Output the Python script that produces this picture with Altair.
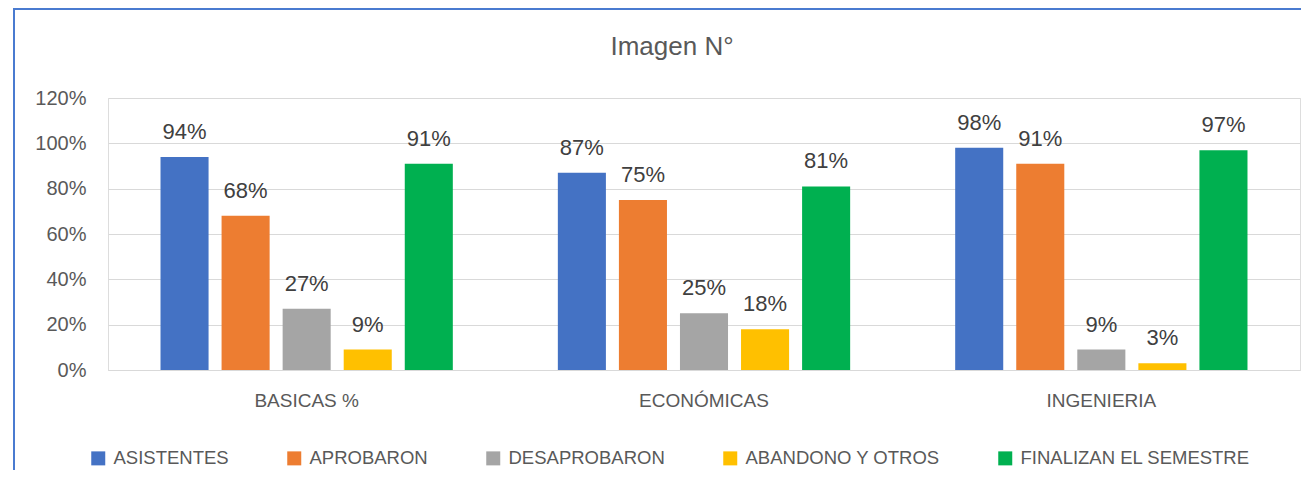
import altair as alt
import pandas as pd

categories = ["BASICAS %", "ECONÓMICAS", "INGENIERIA"]
series = ["ASISTENTES", "APROBARON", "DESAPROBARON", "ABANDONO Y OTROS", "FINALIZAN EL SEMESTRE"]
colors = ["#4472C4", "#ED7D31", "#A5A5A5", "#FFC000", "#00B050"]
values = {
    "ASISTENTES": [0.94, 0.87, 0.98],
    "APROBARON": [0.68, 0.75, 0.91],
    "DESAPROBARON": [0.27, 0.25, 0.09],
    "ABANDONO Y OTROS": [0.09, 0.18, 0.03],
    "FINALIZAN EL SEMESTRE": [0.91, 0.81, 0.97],
}
y_ticks = [0, 0.2, 0.4, 0.6, 0.8, 1.0, 1.2]

rows = []
for s in series:
    for c, v in zip(categories, values[s]):
        rows.append({"cat": c, "serie": s, "val": v})
df = pd.DataFrame(rows)

FONT = "Liberation Sans"
W, H = 1192, 272

x_enc = alt.X("cat:N", sort=categories, title=None,
              scale=alt.Scale(paddingInner=0, paddingOuter=0),
              axis=alt.Axis(labelAngle=0, ticks=False, labelPadding=21, labelFontSize=19,
                            labelColor="#595959", domainColor="#D9D9D9", labelFont=FONT))
xo_enc = alt.XOffset("serie:N", sort=series,
                     scale=alt.Scale(paddingInner=0.213, paddingOuter=0.86))

base = alt.Chart(df)

bars = base.mark_bar().encode(
    x=x_enc,
    xOffset=xo_enc,
    y=alt.Y("val:Q", title=None,
            scale=alt.Scale(domain=[0, 1.2], nice=False),
            axis=alt.Axis(values=y_ticks, format=".0%", ticks=False, domain=False,
                          gridColor="#D9D9D9", gridWidth=1, labelPadding=22,
                          labelFontSize=20, labelColor="#595959", labelFont=FONT)),
    color=alt.Color("serie:N", sort=series,
                    scale=alt.Scale(domain=series, range=colors),
                    legend=alt.Legend(title=None, orient="none", legendX=-19, legendY=351,
                                      direction="horizontal", columns=5, symbolType="square",
                                      symbolSize=196, symbolStrokeWidth=0, labelFontSize=18.5,
                                      labelColor="#595959", labelFont=FONT, labelLimit=400,
                                      labelOffset=6, columnPadding=56)),
)

labels = base.mark_text(baseline="alphabetic", dy=-18, fontSize=22, color="#404040",
                        font=FONT).encode(
    x=alt.X("cat:N", sort=categories),
    xOffset=alt.XOffset("serie:N", sort=series),
    y="val:Q",
    text=alt.Text("val:Q", format=".0%"),
)

border = alt.Chart(pd.DataFrame({"a": [0]})).mark_rect(
    fillOpacity=0, stroke="#4A7BD0", strokeWidth=2, clip=False
).encode(x=alt.value(-94), x2=alt.value(W + 60), y=alt.value(-89), y2=alt.value(H + 200))

chart = alt.layer(border, bars, labels).properties(
    width=W, height=H,
    title=alt.TitleParams("Imagen N°", fontSize=26, color="#595959", font=FONT,
                          fontWeight="normal", anchor="middle", frame="group",
                          baseline="bottom", dx=-32, offset=0, dy=78),
    autosize=alt.AutoSizeParams(type="none"),
    padding={"left": 100, "top": 90, "right": 1, "bottom": 100},
).configure_view(stroke=None).configure(background="white")

chart.save("out.html", embed_options={"renderer": "svg", "actions": False})
